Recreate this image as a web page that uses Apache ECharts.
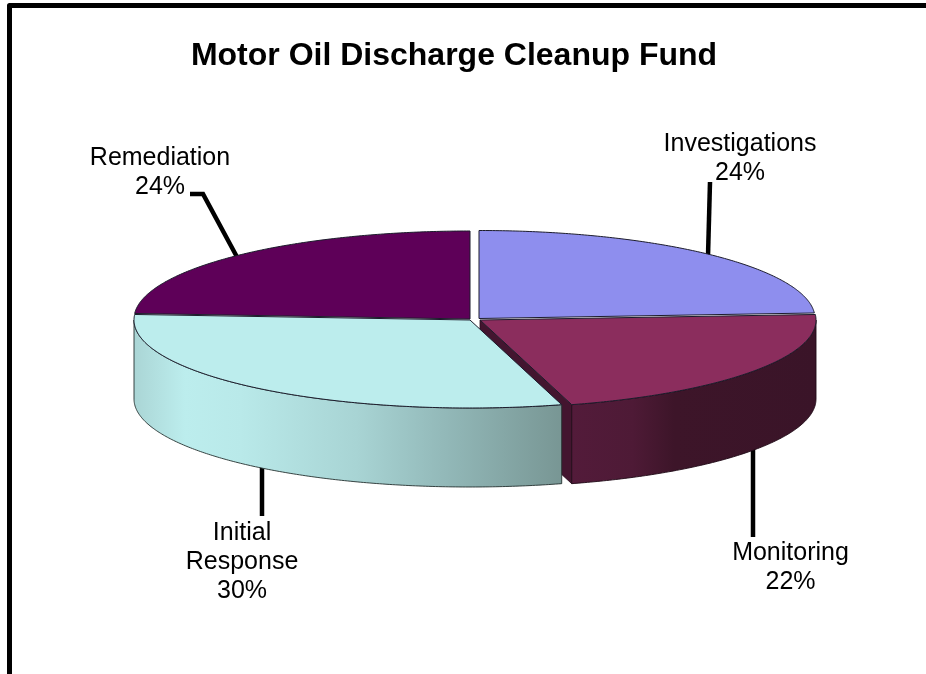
<!DOCTYPE html>
<html>
<head>
<meta charset="utf-8">
<style>html,body{margin:0;padding:0;background:#fff}#c{width:926px;height:674px}</style>
<script src="https://cdn.jsdelivr.net/npm/echarts@6/dist/echarts.min.js"></script>
</head>
<body>
<div id="c"></div>
<script>
// ---- data ----
const titleText = 'Motor Oil Discharge Cleanup Fund';
const categories = ['Investigations', 'Monitoring', 'Initial Response', 'Remediation'];
const shareValues = [24, 21.6, 30.4, 24];

// ---- pie projection & styles ----
const RX = 336, RY = 88, DEPTH = 79, CX = 474.5, CY = 319.5;
const explode = [[4.5, -1], [5.5, 0.5], [-4.5, 0.5], [-4.5, -0.5]];
const topColors = ['#8E8EEE', '#8B2D5D', '#BCEDED', '#5E0058'];
const wallStops = [
  null,
  [[0, '#531B3A'], [0.25, '#4E1A36'], [0.42, '#3D1529'], [1, '#3A1428']],
  [[0, '#AAD5D5'], [0.12, '#BCEDED'], [0.25, '#B9E9E9'], [0.52, '#A8D4D4'], [0.73, '#92B8B8'], [1, '#789694']],
  null
];
const wallEdge = [null, '#1f0a16', '#24302f', null];
const endFaceColor = '#43152F';
const leaders = [
  [[710, 182], [708, 256]],
  [[753, 445], [753, 537]],
  [[262, 465], [262, 516]],
  [[190, 194], [203, 194], [237, 257]]
];
const labelPos = [[740, 159], [790.5, 568], [242, 562], [160, 172.5]];

const total = shareValues.reduce((a, b) => a + b, 0);
const startAngles = [];
shareValues.reduce((acc, v, i) => { startAngles[i] = acc / total * Math.PI * 2; return acc + v; }, 0);

function rim(cx, cy, a) { return [cx + RX * Math.sin(a), cy - RY * Math.cos(a)]; }
function arc(cx, cy, a0, a1) {
  const n = Math.max(2, Math.ceil(Math.abs(a1 - a0) / 0.01));
  const pts = [];
  for (let k = 0; k <= n; k++) pts.push(rim(cx, cy, a0 + (a1 - a0) * k / n));
  return pts;
}

function renderSlice(params, api) {
  const i = params.dataIndex;
  const a0 = startAngles[i];
  const a1 = a0 + api.value(0) / total * Math.PI * 2;
  const cx = CX + explode[i][0], cy = CY + explode[i][1];
  const children = [];
  const base = i * 10;

  // leader line, behind the pie
  children.push({
    type: 'polyline', z2: 0, shape: { points: leaders[i] },
    style: { stroke: '#000', lineWidth: 4.5, fill: 'none' }
  });

  // outer wall (front half only)
  const w0 = Math.max(a0, Math.PI / 2), w1 = Math.min(a1, Math.PI * 1.5);
  if (wallStops[i] && w1 > w0) {
    const top = arc(cx, cy, w0, w1);
    const bottom = top.slice().reverse().map(p => [p[0], p[1] + DEPTH]);
    children.push({
      type: 'polygon', z2: base + 2, shape: { points: top.concat(bottom) },
      style: {
        fill: {
          type: 'linear', x: 0, y: 0, x2: 1, y2: 0,
          colorStops: wallStops[i].map(s => ({ offset: s[0], color: s[1] }))
        },
        stroke: wallEdge[i], lineWidth: 0.9
      }
    });
  }

  // visible cut face at the end of the slice
  if (i === 1) {
    const e = rim(cx, cy, a1);
    children.push({
      type: 'polygon', z2: base + 1,
      shape: { points: [[cx, cy], e, [e[0], e[1] + DEPTH], [cx, cy + DEPTH]] },
      style: { fill: endFaceColor, stroke: '#2a0d1e', lineWidth: 0.8 }
    });
  }

  // top face
  children.push({
    type: 'polygon', z2: base + 3,
    shape: { points: [[cx, cy]].concat(arc(cx, cy, a0, a1)) },
    style: { fill: topColors[i], stroke: '#1c1c2c', lineWidth: 1 }
  });

  // label
  const pct = Math.round(api.value(0) / total * 100);
  children.push({
    type: 'text', z2: 100,
    style: {
      text: categories[i].replace(' ', '\n') + '\n' + pct + '%',
      x: labelPos[i][0], y: labelPos[i][1],
      align: 'center', verticalAlign: 'middle',
      fontFamily: '"Liberation Sans", Arial, sans-serif',
      fontSize: 25, lineHeight: 29, fill: '#000'
    }
  });

  return { type: 'group', children };
}

const chart = echarts.init(document.getElementById('c'), null, { renderer: 'canvas' });
chart.setOption({
  animation: false,
  backgroundColor: '#fff',
  title: {
    text: titleText, left: 449, top: 35, textAlign: 'center',
    textStyle: { fontFamily: '"Liberation Sans", Arial, sans-serif', fontWeight: 'bold', fontSize: 32, color: '#000' }
  },
  graphic: [{
    type: 'polyline', silent: true,
    shape: { points: [[9.5, 674], [9.5, 5.5], [926, 5.5]] },
    style: { stroke: '#000', lineWidth: 5, fill: 'none', lineJoin: 'round' }
  }],
  series: [{
    type: 'custom',
    coordinateSystem: 'none',
    clip: false,
    renderItem: renderSlice,
    data: shareValues.map(v => [v])
  }]
});
</script>
</body>
</html>
